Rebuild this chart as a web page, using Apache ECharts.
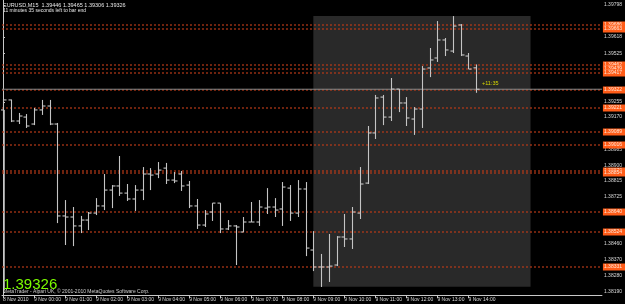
<!DOCTYPE html>
<html><head><meta charset="utf-8">
<script src="https://cdn.jsdelivr.net/npm/echarts@6/dist/echarts.min.js"></script>
<style>html,body{margin:0;padding:0;background:#000;}#c{width:625px;height:304px;}</style>
</head><body><div id="c"></div>
<script>
// M15 bars, 8 Nov 2010 23:00 .. 9 Nov 14:15 (bar index = position on time axis)
const opens = [1.39210,1.39266,1.39148,1.39170,1.39131,1.39210,1.39232,1.39131,1.38616,1.38610,
1.38560,1.38593,1.38632,1.38672,1.38761,1.38784,1.38744,1.38711,1.38761,1.38851,
1.38851,1.38884,1.38817,1.38851,1.38789,1.38672,1.38565,1.38638,1.38688,1.38543,
1.38560,1.38526,1.38582,1.38582,1.38660,1.38666,1.38655,1.38772,1.38632,1.38767,
1.38425,1.38330,1.38330,1.38341,1.38498,1.38487,1.38632,1.38800,1.39081,1.39282,
1.39170,1.39327,1.39249,1.39159,1.39215,1.39445,1.39501,1.39602,1.39540,1.39686,
1.39512,1.39446];
const highs = [1.39271,1.39268,1.39193,1.39187,1.39221,1.39266,1.39266,1.39137,1.38705,1.38666,
1.38616,1.38638,1.38716,1.38851,1.38789,1.38952,1.38795,1.38789,1.38890,1.38884,
1.38918,1.38913,1.38862,1.38868,1.38812,1.38711,1.38649,1.38688,1.38688,1.38593,
1.38565,1.38610,1.38694,1.38705,1.38772,1.38716,1.38806,1.38789,1.38817,1.38806,
1.38531,1.38403,1.38515,1.38503,1.38627,1.38666,1.38890,1.39120,1.39294,1.39294,
1.39389,1.39327,1.39282,1.39226,1.39456,1.39557,1.39708,1.39613,1.39736,1.39691,
1.39529,1.39465];
const lows = [1.39159,1.39142,1.39131,1.39109,1.39125,1.39182,1.39125,1.38576,1.38453,1.38447,
1.38520,1.38537,1.38621,1.38649,1.38660,1.38728,1.38700,1.38644,1.38705,1.38761,
1.38828,1.38795,1.38800,1.38756,1.38660,1.38543,1.38554,1.38588,1.38520,1.38537,
1.38341,1.38526,1.38582,1.38560,1.38627,1.38610,1.38560,1.38588,1.38610,1.38391,
1.38307,1.38218,1.38246,1.38335,1.38442,1.38431,1.38599,1.38795,1.39047,1.39125,
1.39148,1.39198,1.39120,1.39070,1.39109,1.39394,1.39479,1.39512,1.39529,1.39512,
1.39439,1.39306];
const closes = [1.39266,1.39148,1.39176,1.39120,1.39210,1.39232,1.39131,1.38616,1.38610,1.38560,
1.38593,1.38632,1.38672,1.38761,1.38784,1.38744,1.38711,1.38761,1.38851,1.38845,
1.38873,1.38817,1.38812,1.38784,1.38672,1.38565,1.38627,1.38688,1.38543,1.38560,
1.38554,1.38582,1.38582,1.38666,1.38666,1.38649,1.38778,1.38632,1.38767,1.38436,
1.38330,1.38330,1.38335,1.38498,1.38487,1.38638,1.38795,1.39081,1.39277,1.39170,
1.39327,1.39249,1.39165,1.39215,1.39439,1.39490,1.39602,1.39546,1.39680,1.39518,
1.39439,1.39326];

// time axis labels (bar index -> label)
const tickIdx = [0,4,8,12,16,20,24,28,32,36,40,44,48,52,56,60];
const tickLabels = ['8 Nov 2010','9 Nov 00:00','9 Nov 01:00','9 Nov 02:00','9 Nov 03:00','9 Nov 04:00',
  '9 Nov 05:00','9 Nov 06:00','9 Nov 07:00','9 Nov 08:00','9 Nov 09:00','9 Nov 10:00',
  '9 Nov 11:00','9 Nov 12:00','9 Nov 13:00','9 Nov 14:00'];
// price scale labels
const priceLabels = [1.39798,1.39618,1.39525,1.39255,1.39170,1.38985,1.38900,1.38815,1.38725,1.38460,1.38370,1.38280,1.38190];
// horizontal levels (orange dotted)
const levels = [1.39686,1.39663,1.39462,1.39439,1.39417,1.39322,1.39221,1.39089,1.39016,1.38870,1.38854,1.38640,1.38524,1.38331];
const bid = 1.39326;
// left vertical line (bar index, price from / to)
const vLineIdx = 0.13;
const vLinePrice = [1.39210, 1.38201];
// highlighted rectangle: bar index range, price range
const rectIdx = [40, 68];
const rectPrice = [1.39736, 1.38219];

const FONT = '"Liberation Sans", Arial, sans-serif';
const X_MIN = -0.13, X_MAX = 77.2;
const barData = opens.map((o, i) => [i, o, highs[i], lows[i], closes[i]]);
const ORANGE_LINE = '#b83a18';
const ORANGE_BOX = '#ff5c18';

const chart = echarts.init(document.getElementById('c'), null, {renderer: 'canvas'});
const BAR = '#c4c4c4';
chart.setOption({
  backgroundColor: '#000000',
  animation: false,
  grid: {left: 0, right: 18, top: 0, bottom: 9, containLabel: false},
  xAxis: {
    type: 'value', min: X_MIN, max: X_MAX,
    axisLine: {show: true, lineStyle: {color: '#c8c8c8', width: 1}},
    axisTick: {show: true, customValues: tickIdx, length: 3, lineStyle: {color: '#c8c8c8'}},
    axisLabel: {
      customValues: tickIdx,
      formatter: v => { const k = tickIdx.findIndex(t => Math.abs(t - v) < 1e-6); return k >= 0 ? tickLabels[k] : ''; },
      color: '#d8d8d8', fontSize: 5, fontFamily: FONT, align: 'left', margin: 2, hideOverlap: false
    },
    splitLine: {show: false}
  },
  yAxis: {
    type: 'value', position: 'right', min: 1.38173, max: 1.39826, scale: true,
    axisLine: {show: true, lineStyle: {color: '#c8c8c8', width: 1}},
    axisTick: {show: true, customValues: priceLabels, length: 2, lineStyle: {color: '#c8c8c8'}},
    axisLabel: {customValues: priceLabels, formatter: v => v.toFixed(5), color: '#d8d8d8',
      fontSize: 5, fontFamily: FONT, margin: 2, hideOverlap: false},
    splitLine: {show: false}
  },
  series: [
    {
      name: 'rect', type: 'line', data: [], z: 1, silent: true,
      markArea: {silent: true, itemStyle: {color: '#292929'},
        data: [[{coord: [rectIdx[0], rectPrice[0]]}, {coord: [rectIdx[1], rectPrice[1]]}]]}
    },
    {
      name: 'levels', type: 'custom', z: 2, silent: true, clip: false,
      data: levels.map(p => [p]),
      encode: {y: 0},
      renderItem: (params, api) => {
        const p = api.value(0);
        const a = api.coord([X_MIN, p]);
        const b = api.coord([X_MAX, p]);
        const y = Math.round(a[1]);
        return {type: 'group', children: [
          {type: 'line', shape: {x1: a[0], y1: y, x2: b[0], y2: y},
            style: {stroke: ORANGE_LINE, lineWidth: 1.2, lineDash: [2, 2]}},
          {type: 'rect', shape: {x: b[0] + 1, y: y - 3.5, width: 24, height: 7},
            style: {fill: ORANGE_BOX}},
          {type: 'text', x: b[0] + 2, y: y,
            style: {text: p.toFixed(5), fill: '#ffe6d6', font: '5px ' + FONT, verticalAlign: 'middle', align: 'left'}}
        ]};
      }
    },
    {
      name: 'bid', type: 'line', data: [[X_MIN, bid], [X_MAX, bid]], z: 2, silent: true,
      symbol: 'none', lineStyle: {color: '#8a8a8a', width: 1},
      markPoint: {
        silent: true, symbol: 'rect', symbolSize: 1, itemStyle: {color: 'rgba(0,0,0,0)'},
        data: [{coord: [61.8, bid], label: {show: true, formatter: '+11:35', position: [0, -8],
          color: '#d6d600', fontSize: 5.5, fontFamily: FONT}}]
      }
    },
    {
      name: 'vline', type: 'custom', z: 2, silent: true, clip: true,
      data: [[vLineIdx, vLinePrice[0], vLinePrice[1]]],
      encode: {x: 0, y: [1, 2]},
      renderItem: (params, api) => {
        const a = api.coord([api.value(0), api.value(1)]);
        const b = api.coord([api.value(0), api.value(2)]);
        const x = Math.round(a[0]) + 0.5;
        return {type: 'line', shape: {x1: x, y1: a[1], x2: x, y2: b[1]},
          style: {stroke: '#9a9a9a', lineWidth: 1}};
      }
    },
    {
      name: 'EURUSD,M15', type: 'custom', z: 3, clip: true,
      data: barData,
      encode: {x: 0, y: [1, 2, 3, 4]},
      renderItem: (params, api) => {
        const x = api.value(0);
        const o = api.coord([x, api.value(1)]);
        const h = api.coord([x, api.value(2)]);
        const l = api.coord([x, api.value(3)]);
        const c = api.coord([x, api.value(4)]);
        const cx = Math.round(o[0]) + 0.5;
        const st = {stroke: BAR, lineWidth: 1.1};
        return {type: 'group', children: [
          {type: 'line', shape: {x1: cx, y1: h[1], x2: cx, y2: l[1]}, style: st},
          {type: 'line', shape: {x1: cx - 3, y1: o[1], x2: cx, y2: o[1]}, style: st},
          {type: 'line', shape: {x1: cx, y1: c[1], x2: cx + 3, y2: c[1]}, style: st}
        ]};
      }
    }
  ],
  graphic: [
    {type: 'text', left: 3, top: 2, silent: true,
      style: {text: 'EURUSD,M15  1.39446 1.39465 1.39306 1.39326', fill: '#e6e6e6', font: '5.5px ' + FONT}},
    {type: 'text', left: 3, top: 8, silent: true,
      style: {text: '11 minutes 35 seconds left to bar end', fill: '#e6e6e6', font: '5px ' + FONT}},
    {type: 'text', left: 3, top: 277, silent: true, z: 10,
      style: {text: '1.39326', fill: '#7cfc00', font: '15px ' + FONT}},
    {type: 'text', left: 3, top: 289, silent: true, z: 11,
      style: {text: 'MetaTrader - Alpari UK, \u00a9 2001-2010 MetaQuotes Software Corp.', fill: '#cfcfcf', font: '5px ' + FONT}}
  ]
});
</script>
</body></html>
